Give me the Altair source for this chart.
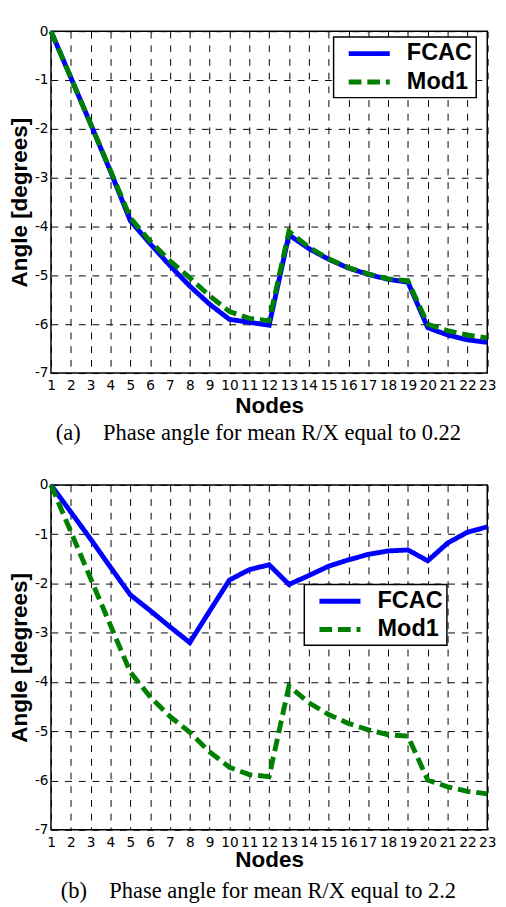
import altair as alt
import pandas as pd

nodes = list(range(1, 24))
series = ["FCAC", "Mod1"]
y_ticks = list(range(-7, 1))

fcac_a = [0, -0.95, -1.9, -2.87, -3.88, -4.35, -4.8, -5.22, -5.59, -5.9, -5.96, -6.02,
          -4.17, -4.45, -4.67, -4.85, -4.98, -5.08, -5.14, -6.07, -6.22, -6.32, -6.37]
mod1_a = [0, -0.95, -1.9, -2.85, -3.82, -4.3, -4.7, -5.05, -5.42, -5.74, -5.88, -5.93,
          -4.1, -4.42, -4.66, -4.84, -4.97, -5.07, -5.11, -6.0, -6.13, -6.22, -6.28]
fcac_b = [0, -0.55, -1.1, -1.67, -2.23, -2.55, -2.88, -3.2, -2.56, -1.93, -1.72, -1.62,
          -2.02, -1.84, -1.65, -1.52, -1.41, -1.34, -1.32, -1.54, -1.18, -0.96, -0.85]
mod1_b = [0, -0.95, -1.9, -2.85, -3.8, -4.3, -4.7, -5.02, -5.42, -5.73, -5.88, -5.92,
          -4.08, -4.42, -4.66, -4.84, -4.97, -5.07, -5.1, -5.99, -6.13, -6.22, -6.27]

caption_a = "(a)\u00a0\u00a0\u00a0\u00a0Phase angle for mean R/X equal to 0.22"
caption_b = "(b)\u00a0\u00a0\u00a0\u00a0Phase angle for mean R/X equal to 2.2"


def frame(f, m):
    return pd.DataFrame({
        "node": nodes + nodes,
        "angle": f + m,
        "series": [series[0]] * len(nodes) + [series[1]] * len(nodes),
    })


def panel(df, height, lx, ly, caption, title_pad, cap_offset):
    legend = alt.Legend(
        title=None, orient="none", legendX=lx, legendY=ly,
        symbolType="M-2,0H2", symbolSize=441, symbolStrokeWidth=5,
        symbolOffset=19.5, labelOffset=25.5,
        labelFont="Liberation Sans", labelFontSize=24, labelFontWeight="bold",
        labelColor="black", labelExpr="datum.label + '\u00a0\u00a0'",
        padding=4, rowPadding=4, strokeColor="black", fillColor="white",
    )
    return alt.Chart(df, title=alt.TitleParams(
        text=caption, orient="bottom", anchor="middle", frame="group", dx=-11,
        offset=cap_offset, font="Liberation Serif", fontSize=23,
        fontWeight="normal", color="black",
    )).mark_line(strokeWidth=5).encode(
        x=alt.X("node:Q", scale=alt.Scale(domain=[1, 23], nice=False, zero=False),
                axis=alt.Axis(values=nodes, title="Nodes", titlePadding=title_pad,
                              labelPadding=6, format="d")),
        y=alt.Y("angle:Q", scale=alt.Scale(domain=[-7, 0], nice=False),
                axis=alt.Axis(values=y_ticks, title="Angle [degrees]", titlePadding=3,
                              labelPadding=3, labelExpr="toString(datum.value)")),
        color=alt.Color("series:N", scale=alt.Scale(domain=series, range=["#0000ff", "#008000"]),
                        legend=legend),
        strokeDash=alt.StrokeDash("series:N", scale=alt.Scale(domain=series, range=[[1, 0], [13, 6]]),
                                  legend=legend),
    ).properties(width=446.6, height=height)


top = panel(frame(fcac_a, mod1_a), 350, 289.3, 6, caption_a, 2, 5.7)
bottom = panel(frame(fcac_b, mod1_b), 353, 259.3, 102, caption_b, 0, 8.8)

chart = alt.vconcat(top, bottom, spacing=28.5).resolve_scale(
    color="independent", strokeDash="independent"
).properties(
    padding={"left": 0, "top": 2, "right": 0, "bottom": 0}
).configure_view(
    stroke="black", strokeWidth=1.5
).configure_axis(
    grid=True, gridColor="black", gridDash=[7, 7], gridOpacity=1, gridWidth=1,
    ticks=False, domain=False, labelOverlap=False, labelFlush=False,
    labelFont="DejaVu Sans", labelFontSize=14, labelColor="black",
    titleFont="Liberation Sans", titleFontSize=23, titleFontWeight="bold", titleColor="black",
).configure_legend(
    strokeWidth=1.5
)

chart.save("out.html", embed_options={"renderer": "svg", "actions": False})
